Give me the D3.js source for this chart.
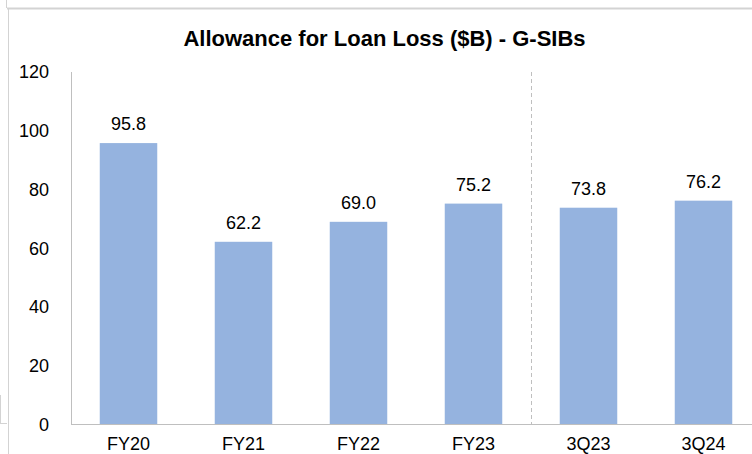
<!DOCTYPE html>
<html>
<head>
<meta charset="utf-8">
<script src="https://cdn.jsdelivr.net/npm/d3@7"></script>
<style>
  body { margin: 0; background: #fff; }
  svg { display: block; font-family: Arial, "Liberation Sans", sans-serif; }
</style>
</head>
<body>
<svg width="752" height="454"></svg>
<script>
const categories = ["FY20", "FY21", "FY22", "FY23", "3Q23", "3Q24"];
const values     = [95.8, 62.2, 69.0, 75.2, 73.8, 76.2];
const yTicks     = [0, 20, 40, 60, 80, 100, 120];
const title      = "Allowance for Loan Loss ($B) - G-SIBs";

const svg = d3.select("svg");
const width  = +svg.attr("width");
const height = +svg.attr("height");

// plot area runs off the right edge, like the cropped original
const x = d3.scaleBand()
  .domain(categories)
  .range([71, 761])
  .paddingInner(0.5)
  .paddingOuter(0.25);

const y = d3.scaleLinear()
  .domain([0, 120])
  .range([424.5, 72]);

// sheet frame lines
const frame = svg.append("g").attr("stroke", "#d3d3d3").attr("fill", "none");
frame.append("line").attr("x1", 7).attr("x2", width).attr("y1", 8.5).attr("y2", 8.5).attr("stroke-width", 2);
frame.append("line").attr("x1", 8.5).attr("x2", 8.5).attr("y1", 8).attr("y2", height);
frame.append("line").attr("x1", 6.5).attr("x2", 6.5).attr("y1", 0).attr("y2", 8);
frame.append("line").attr("x1", 0).attr("x2", 7).attr("y1", 423.5).attr("y2", 423.5);
frame.append("line").attr("x1", 0.5).attr("x2", 0.5).attr("y1", 395).attr("y2", 423.5);

svg.append("text")
  .attr("x", 384.5)
  .attr("y", 46)
  .attr("text-anchor", "middle")
  .attr("font-size", 22)
  .attr("font-weight", "bold")
  .attr("fill", "#000")
  .text(title);

// y axis labels
svg.append("g")
  .selectAll("text")
  .data(yTicks)
  .join("text")
  .attr("x", 49)
  .attr("y", d => y(d))
  .attr("dy", "0.36em")
  .attr("text-anchor", "end")
  .attr("font-size", 18)
  .attr("fill", "#000")
  .text(d => d);

// bars
svg.append("g")
  .selectAll("rect")
  .data(values)
  .join("rect")
  .attr("x", (d, i) => x(categories[i]))
  .attr("y", d => y(d))
  .attr("width", x.bandwidth())
  .attr("height", d => y(0) - y(d))
  .attr("fill", "#95b3df");

// value labels
svg.append("g")
  .selectAll("text")
  .data(values)
  .join("text")
  .attr("x", (d, i) => x(categories[i]) + x.bandwidth() / 2)
  .attr("y", d => y(d) - 13)
  .attr("text-anchor", "middle")
  .attr("font-size", 18)
  .attr("fill", "#000")
  .text(d => d.toFixed(1));

// x labels
svg.append("g")
  .selectAll("text")
  .data(categories)
  .join("text")
  .attr("x", d => x(d) + x.bandwidth() / 2)
  .attr("y", 450)
  .attr("text-anchor", "middle")
  .attr("font-size", 18)
  .attr("fill", "#000")
  .text(d => d);

// axes lines
svg.append("line")
  .attr("x1", 71.5).attr("x2", 71.5)
  .attr("y1", y(120)).attr("y2", y(0))
  .attr("stroke", "#bfbfbf");

svg.append("line")
  .attr("x1", 71).attr("x2", width)
  .attr("y1", y(0)).attr("y2", y(0))
  .attr("stroke", "#bfbfbf");

// divider between annual and quarterly
const divX = Math.round((x("FY23") + x.bandwidth() + x("3Q23")) / 2) + 0.5;
svg.append("line")
  .attr("x1", divX).attr("x2", divX)
  .attr("y1", y(120)).attr("y2", y(0))
  .attr("stroke", "#bfbfbf")
  .attr("stroke-dasharray", "4,3");
</script>
</body>
</html>
